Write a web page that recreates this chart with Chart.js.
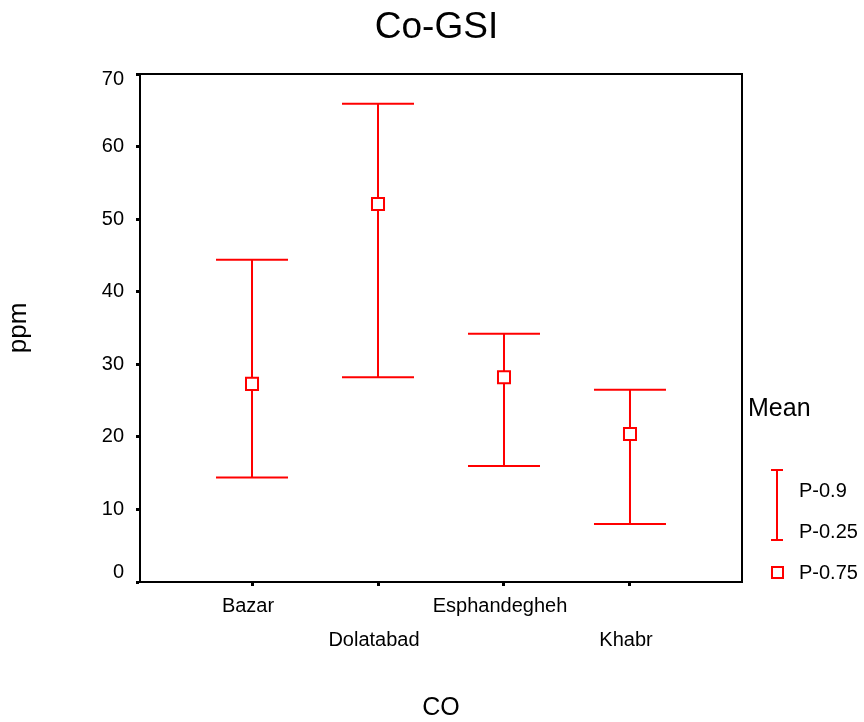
<!DOCTYPE html>
<html>
<head>
<meta charset="utf-8">
<title>Co-GSI</title>
<script src="https://cdn.jsdelivr.net/npm/chart.js@4.4.1/dist/chart.umd.min.js"></script>
<style>
  body { margin: 0; background: #fff; }
  #wrap { position: relative; width: 864px; height: 722px; font-family: "Liberation Sans", Arial, sans-serif; }
  .lg { position: absolute; color: #000; white-space: nowrap; }
  .red { position: absolute; background: #f00; }
  .sq { position: absolute; box-sizing: border-box; border: 2px solid #f00; background: #fff; }
</style>
</head>
<body>
<div id="wrap">
  <canvas id="chart" width="864" height="722"></canvas>
  <!-- legend on the right -->
  <div class="lg" style="left:748px; top:395px; font-size:25px; line-height:25px;">Mean</div>
  <div class="red" style="left:776px; top:470px; width:2px; height:70px;"></div>
  <div class="red" style="left:771px; top:469px; width:12px; height:2px;"></div>
  <div class="red" style="left:771px; top:539px; width:12px; height:2px;"></div>
  <div class="sq" style="left:771px; top:566px; width:13px; height:13px;"></div>
  <div class="lg" style="left:799px; top:480px; font-size:20px; line-height:20px;">P-0.9</div>
  <div class="lg" style="left:799px; top:521px; font-size:20px; line-height:20px;">P-0.25</div>
  <div class="lg" style="left:799px; top:562px; font-size:20px; line-height:20px;">P-0.75</div>
</div>
<script>
const FONT = '"Liberation Sans", Arial, sans-serif'

// data
const categories = ['Bazar', 'Dolatabad', 'Esphandegheh', 'Khabr']
const p90 = [44.4, 65.9, 34.2, 26.5]     // upper cap
const p25 = [14.4, 28.2, 16.0, 8.0]      // lower cap
const means = [27.3, 52.1, 28.2, 20.4]   // square marker
const yTicks = [0, 10, 20, 30, 40, 50, 60, 70]

// whisker lines, one segment per category with a gap between
const whiskers = []
categories.forEach((c, i) => {
    whiskers.push({x: i, y: p25[i]})
    whiskers.push({x: i, y: p90[i]})
    whiskers.push({x: i, y: null})
})

const capsTop = p90.map((v, i) => ({x: i, y: v}))
const capsLow = p25.map((v, i) => ({x: i, y: v}))
const meanPts = means.map((v, i) => ({x: i, y: v}))

// black frame around the plot area
const framePlugin = {
    id: 'frame',
    afterDraw(chart) {
        const a = chart.chartArea
        const ctx = chart.ctx
        ctx.save()
        ctx.strokeStyle = '#000'
        ctx.lineWidth = 2
        ctx.strokeRect(a.left, a.top, a.right - a.left, a.bottom - a.top)
        ctx.restore()
    }
}

new Chart(document.getElementById('chart'), {
    type: 'scatter',
    data: {
        datasets: [
            {
                label: 'P-0.75',
                data: meanPts,
                order: 0,
                pointStyle: 'rect',
                pointRadius: 8.5,
                borderColor: '#ff0000',
                backgroundColor: '#ffffff',
                borderWidth: 2
            },
            {
                label: 'P-0.9',
                data: capsTop,
                order: 1,
                pointStyle: 'line',
                pointRadius: 36,
                borderColor: '#ff0000',
                borderWidth: 2
            },
            {
                label: 'P-0.25',
                data: capsLow,
                order: 1,
                pointStyle: 'line',
                pointRadius: 36,
                borderColor: '#ff0000',
                borderWidth: 2
            },
            {
                type: 'line',
                label: 'range',
                data: whiskers,
                order: 2,
                showLine: true,
                spanGaps: false,
                pointRadius: 0,
                borderColor: '#ff0000',
                borderWidth: 2
            }
        ]
    },
    options: {
        responsive: false,
        animation: false,
        events: [],
        layout: { padding: { left: 9, right: 0, top: 0, bottom: 0 } },
        plugins: {
            legend: { display: false },
            tooltip: { enabled: false },
            title: {
                display: true,
                text: 'Co-GSI',
                color: '#000',
                font: { family: FONT, size: 37, weight: 'normal', lineHeight: 1.2 },
                padding: { top: 6, bottom: 23.6 }
            }
        },
        scales: {
            x: {
                type: 'linear',
                min: -0.889,
                max: 3.889,
                afterBuildTicks: s => { s.ticks = categories.map((c, i) => ({value: i})) },
                afterFit: s => { s.height = 140 },
                grid: { drawOnChartArea: false, drawTicks: true, tickLength: 4, tickWidth: 3, tickColor: '#000' },
                border: { display: true, color: '#000', width: 2 },
                ticks: {
                    color: '#000',
                    padding: 3.5,
                    labelOffset: -4,
                    maxRotation: 0,
                    autoSkip: false,
                    font: { family: FONT, size: 20, lineHeight: '34px' },
                    callback: v => (v % 2 === 0 ? [categories[v], ''] : ['', categories[v]])
                },
                title: {
                    display: true,
                    text: 'CO',
                    color: '#000',
                    font: { family: FONT, size: 25, lineHeight: 1.2 },
                    padding: { top: 0, bottom: -1 }
                }
            },
            y: {
                min: 0,
                max: 70,
                afterBuildTicks: s => { s.ticks = yTicks.map(v => ({value: v})) },
                afterFit: s => { s.width = 131 },
                grid: { drawOnChartArea: false, drawTicks: true, tickLength: 4, tickWidth: 3, tickColor: '#000' },
                border: { display: true, color: '#000', width: 2 },
                ticks: {
                    color: '#000',
                    padding: 12,
                    font: ctx => {
                        // 0 sits a bit above its tick, 70 a bit below
                        if (ctx.tick && ctx.tick.value === 0) return { family: FONT, size: 20, lineHeight: '19px' }
                        if (ctx.tick && ctx.tick.value === 70) return { family: FONT, size: 20, lineHeight: '10px' }
                        return { family: FONT, size: 20 }
                    },
                    callback: v => (v === 0 ? ['0', ''] : v === 70 ? ['', '70'] : String(v))
                },
                title: {
                    display: true,
                    text: 'ppm',
                    color: '#000',
                    font: { family: FONT, size: 26, lineHeight: 1 },
                    padding: { top: -3, bottom: 0 }
                }
            },
            y2: {
                position: 'right',
                min: 0,
                max: 70,
                afterFit: s => { s.width = 122 },
                grid: { display: false, drawTicks: false },
                border: { display: false },
                ticks: { display: false }
            }
        }
    },
    plugins: [framePlugin]
})
</script>
</body>
</html>
